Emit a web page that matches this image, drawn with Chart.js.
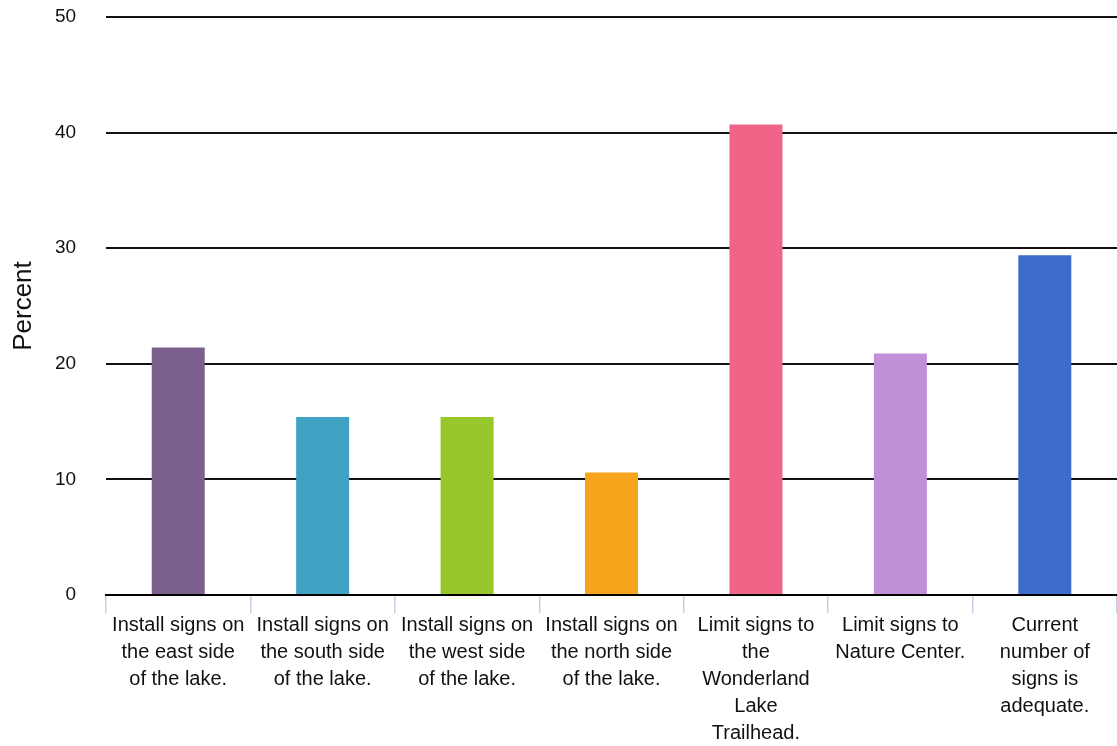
<!DOCTYPE html>
<html>
<head>
<meta charset="utf-8">
<script src="https://cdn.jsdelivr.net/npm/chart.js@4"></script>
<style>
html,body{margin:0;padding:0;background:#fff;}
#c{display:block;}
</style>
</head>
<body>
<canvas id="c" width="1117" height="746"></canvas>
<script>
const categories = [
  ["Install signs on", "the east side", "of the lake."],
  ["Install signs on", "the south side", "of the lake."],
  ["Install signs on", "the west side", "of the lake."],
  ["Install signs on", "the north side", "of the lake."],
  ["Limit signs to", "the", "Wonderland", "Lake", "Trailhead."],
  ["Limit signs to", "Nature Center."],
  ["Current", "number of", "signs is", "adequate."]
];
const percents = [21.4, 15.4, 15.4, 10.6, 40.7, 20.9, 29.4];
const barColors = ["#7b608e", "#40a2c2", "#97c72b", "#f5a41b", "#f06487", "#c08fd8", "#3d6dcc"];
const yTicks = [0, 10, 20, 30, 40, 50];

const FONT = "'Liberation Sans', Arial, Helvetica, sans-serif";

new Chart(document.getElementById('c'), {
  type: 'bar',
  data: {
    labels: categories,
    datasets: [{
      data: percents,
      backgroundColor: barColors,
      borderWidth: 0,
      categoryPercentage: 0.367,
      barPercentage: 1.0
    }]
  },
  options: {
    responsive: false,
    animation: false,
    devicePixelRatio: 1,
    layout: { padding: { left: 0, right: 0, top: 17, bottom: 0 } },
    plugins: { legend: { display: false }, tooltip: { enabled: false } },
    scales: {
      x: {
        offset: true,
        grid: {
          display: true,
          offset: true,
          drawOnChartArea: false,
          drawTicks: true,
          tickLength: 18,
          color: '#c5d0e8',
          lineWidth: 1.5
        },
        border: { display: true, color: '#000', width: 2 },
        ticks: {
          color: '#111',
          font: { family: FONT, size: 20, lineHeight: 1.35 },
          padding: -1,
          maxRotation: 0,
          minRotation: 0,
          autoSkip: false
        }
      },
      y: {
        min: 0,
        max: 50,
        afterBuildTicks: (axis) => { axis.ticks = yTicks.map(v => ({ value: v })); },
        grid: {
          color: '#111',
          lineWidth: 2,
          drawTicks: true,
          tickLength: 30,
          tickColor: 'rgba(0,0,0,0)'
        },
        border: { display: false },
        ticks: {
          color: '#111',
          font: { family: FONT, size: 19 },
          padding: 0
        },
        title: {
          display: true,
          text: 'Percent',
          color: '#111',
          font: { family: FONT, size: 26, lineHeight: 1 },
          padding: { top: 11, bottom: 17.9 }
        }
      }
    }
  }
});
</script>
</body>
</html>
